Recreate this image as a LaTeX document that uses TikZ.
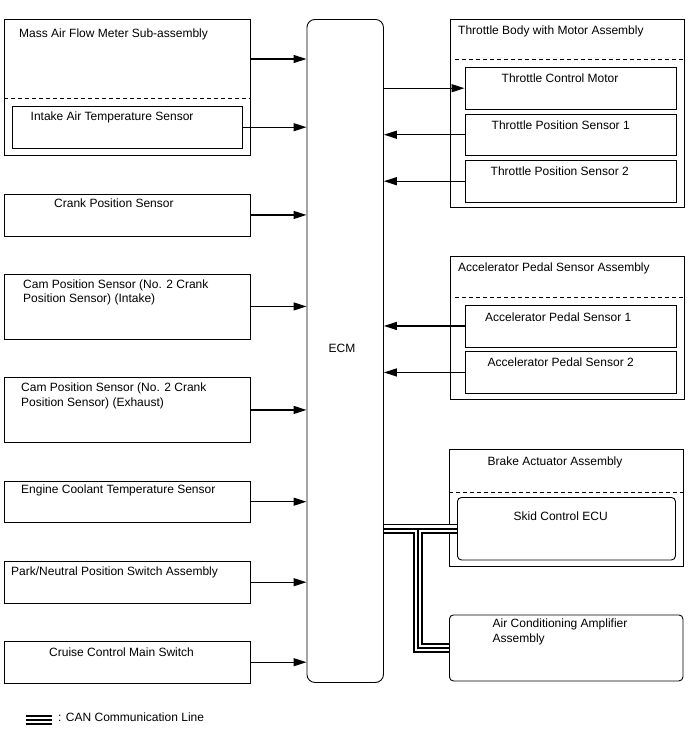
\documentclass[tikz,border=0pt]{standalone}
\usepackage{fontspec}
\setmainfont{Liberation Sans}
\usetikzlibrary{arrows.meta}

\begin{document}
\begin{tikzpicture}[x=1pt, y=-1pt,
    box/.style = {draw, line width=0.9pt, anchor=north west, inner sep=0pt},
    rbox/.style = {box, rounded corners=4pt},
    lbl/.style = {anchor=base west, inner sep=0pt, font=\fontsize{12}{14}\selectfont},
    sig/.style = {line width=1.3pt, -{Triangle[length=13pt, width=8pt]}},
    sep/.style = {line width=0.9pt, dash pattern=on 4pt off 3pt}]
  \useasboundingbox (0,0) rectangle (688,755);

  % left column
  \node[box, minimum width=246pt, minimum height=136pt] (maf) at (4,19) {};
  \node[box, minimum width=230pt, minimum height=41.5pt] (iat) at (12,106) {};
  \node[box, minimum width=246pt, minimum height=42pt] (crank) at (4,193.5) {};
  \node[box, minimum width=246pt, minimum height=65pt] (camin) at (4,273.5) {};
  \node[box, minimum width=246pt, minimum height=65pt] (camex) at (4,377) {};
  \node[box, minimum width=246pt, minimum height=41.5pt] (ect) at (4,480.5) {};
  \node[box, minimum width=246pt, minimum height=41.5pt] (pnp) at (4,561) {};
  \node[box, minimum width=246pt, minimum height=41.5pt] (cruise) at (4,641) {};
  \draw[sep] (4,98.5) -- (250,98.5);

  % ECM
  \node[box, rounded corners=8pt, minimum width=76.5pt, minimum height=663pt] (ecm) at (306.5,19) {};

  % right column
  \node[box, minimum width=234.5pt, minimum height=188pt] (tb) at (449.5,19) {};
  \node[box, minimum width=211.5pt, minimum height=41.5pt] (tcm) at (464.5,67) {};
  \node[box, minimum width=211.5pt, minimum height=41.5pt] (tps1) at (464.5,113.5) {};
  \node[box, minimum width=211.5pt, minimum height=41.5pt] (tps2) at (464.5,160) {};
  \draw[sep] (455,59.5) -- (684,59.5);

  \node[box, minimum width=234.5pt, minimum height=143pt] (aps) at (449.5,256) {};
  \node[box, minimum width=211.5pt, minimum height=42pt] (aps1) at (464.5,304.5) {};
  \node[box, minimum width=211.5pt, minimum height=42pt] (aps2) at (464.5,351) {};
  \draw[sep] (455,297) -- (684,297);

  \node[box, minimum width=234pt, minimum height=117pt] (brk) at (449,448.5) {};
  \node[rbox, minimum width=218pt, minimum height=62.5pt] (skid) at (457,497) {};
  \draw[sep] (449,492.5) -- (683,492.5);

  \node[rbox, minimum width=233.5pt, minimum height=66pt] (ac) at (449,614.5) {};

  % texts
  \begin{scope}[every node/.append style = {lbl}]
    \node (maf-t) at (19,37) {Mass Air Flow Meter Sub-assembly};
    \node (iat-t) at (30.5,120) {Intake Air Temperature Sensor};
    \node (crank-t) at (54,207) {Crank Position Sensor};
    \node (camin-t1) at (23,288) {Cam Position Sensor (No. 2 Crank};
    \node (camin-t2) at (23,302.5) {Position Sensor) (Intake)};
    \node (camex-t1) at (21,391.5) {Cam Position Sensor (No. 2 Crank};
    \node (camex-t2) at (21,406.5) {Position Sensor) (Exhaust)};
    \node (ect-t) at (21,493) {Engine Coolant Temperature Sensor};
    \node (pnp-t) at (11,575) {Park/Neutral Position Switch Assembly};
    \node (cruise-t) at (49,656) {Cruise Control Main Switch};
    \node (ecm-t) at (328.5,352.5) {ECM};
    \node (tb-t) at (458,34) {Throttle Body with Motor Assembly};
    \node (tcm-t) at (501.5,82) {Throttle Control Motor};
    \node (tps1-t) at (491.5,129) {Throttle Position Sensor 1};
    \node (tps2-t) at (490.5,175) {Throttle Position Sensor 2};
    \node (aps-t) at (458,271.5) {Accelerator Pedal Sensor Assembly};
    \node (aps1-t) at (485,321) {Accelerator Pedal Sensor 1};
    \node (aps2-t) at (487.5,366) {Accelerator Pedal Sensor 2};
    \node (brk-t) at (487.5,465) {Brake Actuator Assembly};
    \node (skid-t) at (513.5,520) {Skid Control ECU};
    \node (ac-t1) at (492.5,627.5) {Air Conditioning Amplifier};
    \node (ac-t2) at (492.5,642) {Assembly};
    \node (leg-t) at (58,721) {: CAN Communication Line};
  \end{scope}

  % signal lines
  \coordinate (maf-out) at ([yshift=-40pt]maf.north east);
  \draw[sig] (maf-out) -- (maf-out -| ecm.west);
  \foreach \n in {iat,crank,camin,camex,ect,pnp,cruise}
    \draw[sig] (\n.east) -- (\n.east -| ecm.west);
  \draw[sig] (tcm.west -| ecm.east) -- (tcm.west);
  \foreach \n in {tps1,tps2,aps1,aps2}
    \draw[sig] (\n.west) -- (\n.west -| ecm.east);

  % CAN communication line
  \coordinate (can-j) at (skid.west -| 418,0);
  \coordinate (leg-a) at (26,720);
  \coordinate (leg-b) at (52,720);
  \foreach \w/\c in {10/black,6.5/white,1.6/black}
    \draw[line width=\w pt, \c] (ecm.east |- skid.west) -- (skid.west)
      (can-j) |- (ac.west)
      (leg-a) -- (leg-b);
\end{tikzpicture}
\end{document}
